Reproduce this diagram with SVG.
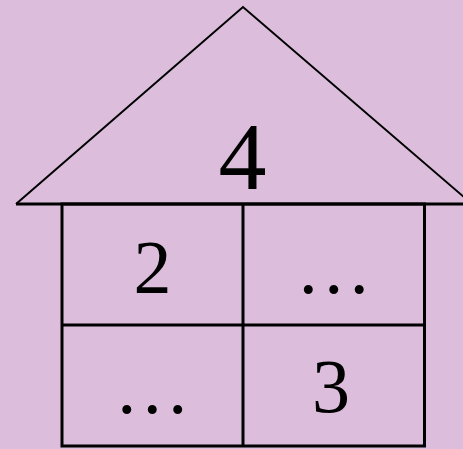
<svg xmlns="http://www.w3.org/2000/svg" width="463" height="449" viewBox="0 0 463 449">
<style>
.bg{fill:#dcbedc}
.ln{fill:none;stroke:#000;stroke-linecap:butt}
.roof{stroke-width:2}
.wall{stroke-width:3}
.t{font-family:"Liberation Serif","Times New Roman",serif;fill:#000;text-anchor:middle}
</style>
<rect class="bg" x="0" y="0" width="463" height="449"/>
<g id="roof">
<polyline class="ln roof" points="16,204 243,7 472,204"/>
<text class="t" x="242.5" y="189" font-size="96">4</text>
</g>
<g id="connectors">
<line class="ln wall" x1="16" y1="204" x2="463" y2="204"/>
<rect class="ln wall" x="62" y="204" width="362.5" height="242"/>
<line class="ln wall" x1="243" y1="204" x2="243" y2="446"/>
<line class="ln wall" x1="62" y1="325" x2="424.5" y2="325"/>
</g>
<g id="cell-tl"><text class="t" x="152.5" y="293" font-size="76">2</text></g>
<g id="cell-tr"><text class="t" x="333.7" y="293" font-size="76">…</text></g>
<g id="cell-bl"><text class="t" x="152.3" y="413" font-size="76">…</text></g>
<g id="cell-br"><text class="t" x="331" y="412" font-size="76">3</text></g>
</svg>
